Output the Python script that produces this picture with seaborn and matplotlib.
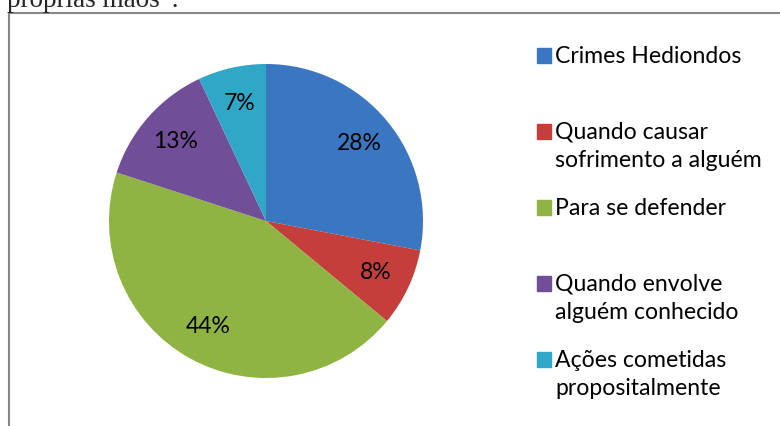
import matplotlib
matplotlib.use('Agg')
import matplotlib.pyplot as plt
import seaborn as sns
from matplotlib.patches import Rectangle

# data
categories = ['Crimes Hediondos', 'Quando causar\nsofrimento a alguém', 'Para se defender',
              'Quando envolve\nalguém conhecido', 'Ações cometidas\npropositalmente']
values = [28, 8, 44, 13, 7]
colors = ['#3b76c0', '#c43e3b', '#8fb443', '#704f98', '#2fa7c7']

sns.set_style('white')
plt.rcParams['font.family'] = ['Lato', 'DejaVu Sans']

W, H = 780, 426
fig = plt.figure(figsize=(7.8, 4.26), dpi=100)

def fx(px):
    return px / W

def fy(py):
    return 1 - py / H

# pie axes, center ~ (266, 221), radius ~157 px
cx, cy, r = 266, 221, 157
ax = fig.add_axes([fx(cx - r), fy(cy + r), 2 * r / W, 2 * r / H])
wedges, texts, autotexts = ax.pie(values, colors=colors, startangle=90, counterclock=False,
                                  autopct='%1.0f%%', pctdistance=0.77,
                                  wedgeprops=dict(linewidth=0),
                                  textprops=dict(fontsize=16.5, color='black'))
ax.set_xlim(-1, 1)
ax.set_ylim(-1, 1)
ax.set_aspect('equal')
ax.axis('off')

# legend drawn by hand so the square sits on the first line
for i, (lab, col) in enumerate(zip(categories, colors)):
    base = 63 + 76 * i
    fig.patches.append(Rectangle((fx(537), fy(base)), 14 / W, 15 / H,
                                 transform=fig.transFigure, color=col))
    for j, line in enumerate(lab.split('\n')):
        fig.text(fx(555), fy(base + 28 * j), line, fontsize=16.6, va='baseline', ha='left',
                 color='black')

# frame lines of the original document box
fig.add_artist(plt.Line2D([fx(9), 1], [fy(13), fy(13)], color='#878787', lw=1.5,
                          transform=fig.transFigure))
fig.add_artist(plt.Line2D([fx(9), fx(9)], [fy(13), 0], color='#878787', lw=1.5,
                          transform=fig.transFigure))

# cut-off text from the page above
fig.text(fx(7), fy(7), 'próprias mãos”.', family='Liberation Serif', fontsize=19.5,
         va='baseline', ha='left')

fig.savefig('out.png', dpi=100)
